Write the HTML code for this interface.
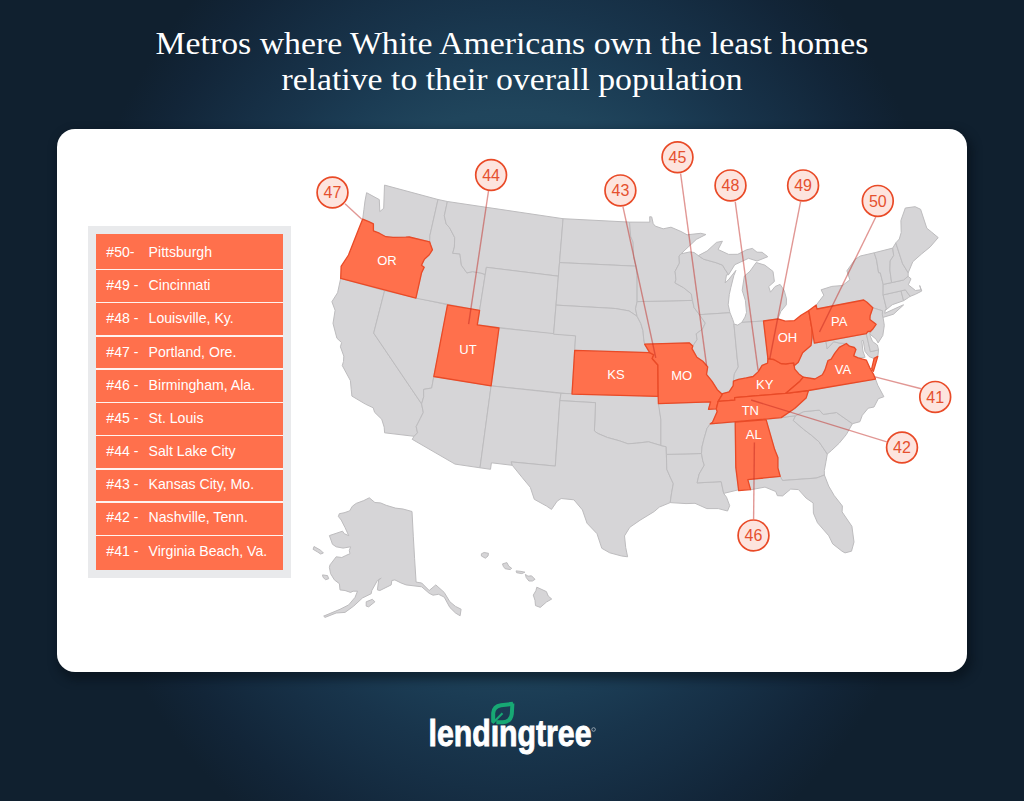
<!DOCTYPE html>
<html><head><meta charset="utf-8">
<style>
html,body{margin:0;padding:0;width:1024px;height:801px;overflow:hidden;background:#10202f}
#bg{position:absolute;left:0;top:0;width:1024px;height:801px;
background:radial-gradient(ellipse 450px 540px at 512px 380px, #24516a 0%, #20455c 50%, #1b3c54 60%, #18344b 69%, #162f45 76%, #122538 90%, #10202f 100%), #10202f;}
.title{position:absolute;left:0;width:1024px;text-align:center;color:#fff;font-family:"Liberation Serif",serif;font-size:32px;white-space:nowrap;line-height:36px;transform:scaleX(1.055);transform-origin:512px 0}
#card{position:absolute;left:57.1px;top:129.4px;width:910.1px;height:542.8px;background:#fff;border-radius:18px;box-shadow:3px 5px 8px 3px rgba(6,13,22,0.5)}
#legend{position:absolute;left:88.3px;top:226.3px;width:203px;height:352px;background:#e9eaec}
.row{position:absolute;left:8.1px;width:186.5px;background:#ff704c;color:#fff;font-family:"Liberation Sans",sans-serif;font-size:14.3px}
.row span{position:absolute;top:50%;transform:translateY(-43%);line-height:16px;white-space:nowrap}
.row .n{left:10px}
.row .c{left:52px}
#map{position:absolute;left:0;top:0}
#logo{position:absolute;left:0;top:0}
</style></head><body>
<div id="bg"></div>
<div class="title" style="top:25px">Metros where White Americans own the least homes</div>
<div class="title" style="top:61px">relative to their overall population</div>
<div id="card"></div>
<div id="legend"><div style="position:absolute;left:8.1px;top:7.9px;width:186.5px;height:335.7px;background:#fff3ef"></div><div class="row" style="top:7.9px;height:34.4px"></div><div class="row" style="top:43.8px;height:31.8px"></div><div class="row" style="top:77.0px;height:31.8px"></div><div class="row" style="top:110.3px;height:31.8px"></div><div class="row" style="top:143.5px;height:31.8px"></div><div class="row" style="top:176.8px;height:31.8px"></div><div class="row" style="top:210.1px;height:31.8px"></div><div class="row" style="top:243.3px;height:31.8px"></div><div class="row" style="top:276.6px;height:31.8px"></div><div class="row" style="top:309.9px;height:33.7px"></div></div>
<svg width="1024" height="801" style="position:absolute;left:0;top:0"><g font-family="Liberation Sans, sans-serif" font-size="14.1" fill="#fff"><text x="106.3" y="257.10">#50-</text><text x="148.6" y="257.10">Pittsburgh</text><text x="106.3" y="290.27">#49 -</text><text x="148.6" y="290.27">Cincinnati</text><text x="106.3" y="323.44">#48 -</text><text x="148.6" y="323.44">Louisville, Ky.</text><text x="106.3" y="356.61">#47 -</text><text x="148.6" y="356.61">Portland, Ore.</text><text x="106.3" y="389.78">#46 -</text><text x="148.6" y="389.78">Birmingham, Ala.</text><text x="106.3" y="422.95">#45 -</text><text x="148.6" y="422.95">St. Louis</text><text x="106.3" y="456.12">#44 -</text><text x="148.6" y="456.12">Salt Lake City</text><text x="106.3" y="489.29">#43 -</text><text x="148.6" y="489.29">Kansas City, Mo.</text><text x="106.3" y="522.46">#42 -</text><text x="148.6" y="522.46">Nashville, Tenn.</text><text x="106.3" y="555.63">#41 -</text><text x="148.6" y="555.63">Virginia Beach, Va.</text></g></svg>
<svg id="map" width="1024" height="801" viewBox="0 0 1024 801">
<g fill="#d6d5d7" stroke="#bdbcbe" stroke-width="1" stroke-linejoin="round">
<path d="M366.6,192.7 379.3,199.6 379.8,211.6 383.7,208.3 384.5,185.1 438.0,199.5 429.9,235.5 429.7,241.9 409.2,237.0 405.8,237.2 393.0,237.4 385.8,236.7 379.3,233.2 373.4,230.8 373.4,223.9 368.8,221.7 362.7,219.1 363.9,209.7 365.0,201.0Z"/>
<path d="M340.7,278.4 384.6,290.7 373.7,333.1 421.6,403.9 423.3,412.4 420.3,418.5 416.2,426.6 417.5,432.8 414.1,436.3 384.6,432.8 384.2,427.2 381.7,419.2 374.6,412.3 373.2,407.8 365.4,404.1 351.9,396.1 351.2,389.2 350.4,380.6 342.3,365.6 343.5,361.4 343.8,356.1 340.4,346.8 341.6,342.6 336.9,338.2 333.0,323.4 335.1,310.3 331.9,301.7 337.6,292.7Z"/>
<path d="M384.6,290.7 447.6,304.8 433.8,376.5 431.7,388.0 423.6,389.4 423.7,396.8 421.6,403.9 373.7,333.1Z"/>
<path d="M433.8,376.5 491.1,385.9 480.0,467.8 455.0,464.1 412.2,439.3 414.1,436.3 417.5,432.8 416.2,426.6 420.3,418.5 423.3,412.4 421.6,403.9 423.7,396.8 423.6,389.4 431.7,388.0 433.8,376.5Z"/>
<path d="M438.0,199.5 447.4,201.5 444.3,215.8 446.2,224.0 449.5,227.6 454.7,237.5 454.4,247.0 452.7,253.3 459.9,253.9 461.4,265.2 466.9,272.9 472.5,271.6 480.7,273.0 485.2,274.5 479.6,310.4 415.9,298.2 421.6,272.7 424.2,267.3 421.5,265.2 424.4,259.2 429.1,255.0 432.4,249.8 430.4,244.2 429.7,241.9 429.9,235.5Z"/>
<path d="M447.4,201.5 563.1,218.7 558.4,276.2 486.4,267.3 485.2,274.5 480.7,273.0 472.5,271.6 466.9,272.9 461.4,265.2 459.9,253.9 452.7,253.3 454.4,247.0 454.7,237.5 449.5,227.6 446.2,224.0 444.3,215.8Z"/>
<path d="M486.4,267.3 558.4,276.2 553.6,334.2 477.3,324.8Z"/>
<path d="M499.0,328.0 575.6,335.8 572.0,394.1 491.1,385.9Z"/>
<path d="M491.1,385.9 561.0,393.4 559.9,400.6 555.3,466.1 511.2,461.9 512.3,465.3 491.4,462.8 490.5,469.3 480.0,467.8Z"/>
<path d="M563.1,218.7 629.5,222.1 630.7,236.4 633.1,242.2 633.6,256.6 636.0,266.2 559.5,262.6Z"/>
<path d="M559.5,262.6 636.0,266.2 637.1,275.4 637.1,301.6 635.5,308.8 637.1,316.3 629.0,310.9 615.2,308.5 556.0,305.1Z"/>
<path d="M556.0,305.1 615.2,308.5 629.0,310.9 637.1,316.3 640.8,323.4 643.0,330.7 643.6,338.0 644.6,344.2 649.7,352.6 574.7,350.4 575.6,335.8 553.6,334.2Z"/>
<path d="M561.0,393.4 658.2,396.4 660.9,419.8 660.9,445.5 648.5,441.8 636.4,443.2 627.9,443.8 619.4,440.8 607.4,437.5 597.9,433.5 594.4,431.0 595.5,402.7 559.9,400.6Z"/>
<path d="M559.9,400.6 595.5,402.7 594.4,431.0 597.9,433.5 607.4,437.5 619.4,440.8 627.9,443.8 636.4,443.2 648.5,441.8 660.9,445.5 666.2,446.7 666.4,454.4 666.8,469.3 670.6,477.9 673.3,483.7 671.7,492.4 670.2,502.6 659.3,507.1 654.3,511.5 640.1,520.2 629.8,527.3 624.5,535.9 625.7,547.4 627.6,556.8 621.6,556.0 609.7,552.8 601.8,548.3 597.0,533.7 587.0,523.2 582.4,509.9 573.9,499.8 561.2,498.5 557.2,501.1 551.5,509.4 546.6,506.1 534.3,499.3 530.3,487.3 522.4,477.8 512.3,465.3 511.2,461.9 555.3,466.1Z"/>
<path d="M666.4,454.4 701.5,453.5 702.8,460.8 704.3,465.1 699.2,474.0 697.1,482.9 721.2,481.6 723.7,493.4 726.5,497.2 729.7,505.7 727.5,511.0 718.3,508.6 706.8,508.6 695.0,503.3 686.0,503.6 670.2,502.6 671.7,492.4 673.3,483.7 670.6,477.9 666.8,469.3Z"/>
<path d="M658.4,403.7 710.6,401.9 708.5,409.3 716.3,408.8 717.1,411.7 712.5,422.2 710.3,423.8 707.0,428.4 704.0,438.8 702.0,446.9 701.5,453.5 666.4,454.4 666.2,446.7 660.9,445.5 660.9,419.8Z"/>
<path d="M637.1,301.6 692.5,300.4 694.1,307.6 699.4,314.7 705.3,323.1 702.5,329.1 696.2,333.8 697.1,339.6 692.8,346.0 689.2,342.8 644.6,344.2 643.6,338.0 643.0,330.7 640.8,323.4 637.1,316.3 635.5,308.8Z"/>
<path d="M629.5,222.1 649.8,222.2 649.7,216.7 651.7,216.9 653.2,223.6 655.2,226.1 663.2,228.8 671.0,227.2 681.0,231.5 687.1,234.8 700.8,233.3 705.9,234.5 696.3,239.4 681.0,253.8 679.1,256.0 679.4,263.2 675.1,271.3 675.9,279.3 675.0,282.9 683.6,287.7 691.3,293.9 692.5,300.4 637.1,301.6 637.1,275.4 636.0,266.2 633.6,256.6 633.1,242.2 630.7,236.4Z"/>
<path d="M681.0,253.8 679.1,256.0 679.4,263.2 675.1,271.3 675.9,279.3 675.0,282.9 683.6,287.7 691.3,293.9 692.5,300.4 694.1,307.6 699.4,314.7 730.0,312.7 728.2,304.8 729.3,294.4 730.8,287.7 733.8,275.7 735.9,270.4 729.0,279.1 725.1,283.0 726.5,274.9 728.6,274.7 724.9,269.2 722.5,265.1 716.1,262.7 703.6,259.2 698.3,255.6 694.1,252.5 690.0,251.9Z"/>
<path d="M698.3,255.6 707.1,251.0 716.5,242.4 722.4,241.2 718.1,249.5 728.7,254.4 737.8,254.3 746.5,249.8 752.4,248.4 757.0,252.2 762.1,252.3 767.8,256.7 757.0,261.0 748.5,258.3 740.7,262.0 734.8,264.7 728.6,274.7 724.9,269.2 722.5,265.1 716.1,262.7 703.6,259.2Z"/>
<path d="M756.2,262.5 750.0,271.2 744.3,276.2 742.2,290.3 745.4,300.5 746.5,312.5 745.0,317.1 741.8,322.4 763.5,321.0 778.0,318.8 780.8,311.5 786.3,304.8 786.5,298.9 784.2,290.4 780.1,284.4 775.1,286.5 770.5,292.2 768.7,286.6 774.4,281.5 773.0,271.4 764.8,265.1Z"/>
<path d="M699.4,314.7 730.0,312.7 732.8,319.7 733.9,323.1 737.2,358.1 738.3,366.9 734.4,373.8 733.4,381.2 733.2,385.6 729.1,391.8 721.7,393.8 717.3,389.7 712.1,381.3 706.5,374.3 707.7,366.9 702.8,361.3 696.9,357.2 692.0,348.6 692.8,346.0 697.1,339.6 696.2,333.8 702.5,329.1 705.3,323.1Z"/>
<path d="M733.9,324.0 737.7,325.1 741.8,322.4 763.5,321.0 767.9,358.7 767.6,363.2 762.1,365.3 758.3,371.6 753.1,376.5 746.3,377.9 738.4,379.3 733.4,381.2 734.4,373.8 738.3,366.9 737.2,358.1Z"/>
<path d="M710.3,423.8 707.0,428.4 704.0,438.8 702.0,446.9 701.5,453.5 702.8,460.8 704.3,465.1 699.2,474.0 697.1,482.9 721.2,481.6 723.7,493.4 738.6,489.8 735.8,467.4 735.2,422.1Z"/>
<path d="M766.1,419.6 795.6,415.7 793.3,420.5 803.7,429.4 811.9,435.6 819.1,441.9 827.3,454.0 826.0,461.5 824.3,470.6 824.4,475.0 818.4,477.4 816.0,478.1 782.5,480.5 780.2,476.4 777.9,467.9 777.9,457.6 774.7,449.6Z"/>
<path d="M747.8,479.6 780.2,476.4 782.5,480.5 816.0,478.1 818.4,477.4 824.4,475.0 828.7,486.1 834.2,495.5 842.4,506.0 842.1,511.9 851.9,526.3 854.0,542.0 851.5,551.2 845.0,552.9 842.0,551.2 832.7,543.9 828.8,535.8 817.5,522.8 813.4,513.2 813.2,503.0 806.1,498.1 798.5,489.6 790.7,489.1 782.6,495.9 777.4,495.7 775.7,491.5 765.0,487.1 750.0,489.9Z"/>
<path d="M795.6,415.7 803.4,411.7 819.4,410.1 823.2,414.4 836.5,412.5 852.4,423.7 846.3,434.6 839.2,443.2 831.7,450.3 827.3,454.0 819.1,441.9 811.9,435.6 803.7,429.4 793.3,420.5Z"/>
<path d="M781.2,417.6 795.6,415.7 803.4,411.7 819.4,410.1 823.2,414.4 836.5,412.5 852.4,423.7 859.9,421.7 862.3,415.3 868.2,408.2 874.0,407.0 878.3,398.7 883.9,396.7 877.8,385.3 875.5,379.1 808.5,390.5 806.1,398.1 794.6,408.5Z"/>
<path d="M812.1,329.9 814.4,343.2 825.9,341.3 827.2,348.8 833.7,341.7 839.0,343.0 846.4,343.5 845.5,344.0 839.3,347.4 834.7,353.4 831.2,359.2 828.0,360.5 825.0,369.9 822.4,374.8 814.9,379.0 803.3,377.2 798.9,373.9 794.7,369.1 794.2,365.7 798.3,362.2 802.6,352.7 811.0,345.5 812.0,337.9Z"/>
<path d="M825.9,341.3 866.3,333.6 870.4,351.7 878.6,349.9 877.8,356.4 873.9,358.5 869.0,356.5 865.0,351.4 863.2,340.5 861.8,340.8 862.9,351.0 865.1,357.3 858.2,357.9 853.7,355.8 855.9,349.5 854.3,347.5 849.4,346.2 846.4,343.5 839.0,343.0 833.7,341.7 827.2,348.8Z"/>
<path d="M866.3,333.6 868.0,331.4 870.3,331.5 870.2,336.0 872.6,341.5 877.4,345.0 878.6,349.9 870.4,351.7Z"/>
<path d="M816.9,309.0 816.2,305.1 823.8,295.2 821.1,289.8 831.8,286.4 842.5,285.5 849.9,279.8 846.9,270.8 855.0,259.4 860.3,256.0 874.2,252.8 876.5,259.7 878.6,272.7 880.3,272.8 883.2,284.4 883.1,294.9 886.4,308.4 885.2,310.5 884.8,313.3 902.5,305.2 903.6,304.9 893.5,314.2 883.0,317.4 880.5,318.8 882.3,314.6 882.5,310.8 872.8,307.8 867.0,302.3 863.7,300.0Z"/>
<path d="M872.8,307.8 882.5,310.8 882.3,314.6 883.3,318.9 884.3,325.4 882.8,335.5 878.1,342.9 876.1,339.2 869.7,333.9 873.1,328.7 876.1,324.3 869.9,319.6 870.1,315.8 872.8,307.8 867.0,302.3Z"/>
<path d="M883.1,294.9 901.0,290.9 903.6,300.7 892.3,304.7 885.2,310.5 886.4,308.4Z"/>
<path d="M901.0,290.9 905.4,289.8 910.1,296.4 908.4,297.6 903.6,300.7Z"/>
<path d="M883.2,284.4 891.6,282.6 903.6,280.0 906.6,277.0 908.1,276.3 911.0,278.8 908.3,284.8 915.5,290.5 920.9,289.8 919.7,285.5 921.8,291.0 915.4,294.3 910.1,296.4 905.4,289.8 901.0,290.9 883.1,294.9Z"/>
<path d="M874.2,252.8 892.7,248.1 893.7,255.5 890.2,260.9 889.9,270.0 891.6,282.6 883.2,284.4 880.3,272.8 878.6,272.7 876.5,259.7Z"/>
<path d="M892.7,248.1 895.8,242.9 902.6,263.7 908.2,272.8 908.1,276.3 903.6,280.0 891.6,282.6 889.9,270.0 890.2,260.9 893.7,255.5Z"/>
<path d="M895.8,242.9 899.3,239.0 901.2,232.5 900.9,220.5 905.3,208.0 915.1,206.7 920.6,209.3 926.8,228.2 931.5,232.0 938.2,237.6 930.2,246.9 921.5,254.0 912.8,261.7 908.2,272.8 902.6,263.7Z"/>
<polygon points="369.3,497.8 374.9,502.5 380.5,502.9 386.2,505.3 395.5,508.1 403.0,509.0 412.0,511.5 413.3,536.2 414.6,558.7 416.1,582.1 421.7,583.0 429.2,590.5 435.8,584.9 444.2,592.4 449.8,601.7 455.5,606.4 461.1,609.2 460.1,615.8 455.5,613.0 449.8,607.4 444.2,597.1 438.6,594.3 433.0,595.2 429.2,593.3 421.7,586.8 406.1,584.9 401.1,583.0 394.9,579.9 391.8,580.5 391.2,584.9 379.9,590.5 377.4,589.9 378.7,579.9 381.2,578.1 377.4,580.5 371.8,590.5 371.2,593.7 362.4,598.0 353.7,606.1 345.0,612.4 336.2,613.0 325.0,617.4 323.7,616.1 340.0,609.3 348.7,604.9 355.0,597.4 357.5,591.2 353.1,591.2 350.6,592.4 345.0,590.5 340.0,589.9 339.4,583.7 334.4,579.9 330.6,573.7 329.4,567.4 330.0,564.9 336.2,556.8 341.8,557.5 345.6,555.6 350.0,553.7 349.3,550.6 350.6,546.8 343.1,548.1 336.2,546.8 332.5,544.3 329.4,535.6 342.5,531.2 344.3,533.7 348.7,535.6 345.0,527.5 341.2,520.0 338.4,516.5 339.3,513.7 344.0,512.8 349.6,510.9 352.4,506.2 356.2,503.4 363.7,500.6"/>
<polygon points="314.0,546.5 320.6,550.2 323.4,553.0 320.6,554.0 317.8,552.1 313.1,549.3"/>
<polygon points="322.5,574.9 327.5,575.6 328.7,578.7 325.6,579.7 323.1,577.4"/>
<polygon points="366.2,601.8 372.4,599.3 374.9,601.8 368.7,606.8 366.2,606.1"/>
<polygon points="481.4,553.8 484.1,552.5 488.5,553.3 488.0,556.0 485.4,558.2 481.4,556.0"/>
<polygon points="502.5,563.9 506.9,562.6 508.7,566.1 511.7,568.3 510.4,569.6 505.1,568.7 503.4,566.5"/>
<polygon points="516.1,570.9 521.0,571.4 524.9,572.2 521.8,573.6 516.6,572.7"/>
<polygon points="525.4,574.4 528.0,576.2 531.5,575.8 535.0,579.3 532.4,581.0 528.9,581.0 526.2,577.5"/>
<polygon points="536.8,587.2 546.4,591.6 548.2,596.0 551.7,599.0 546.4,602.1 540.3,607.4 535.5,605.6 535.0,600.4 533.3,595.1 535.9,590.7"/>
</g><g fill="#ff704c" stroke="#e94a27" stroke-width="1.3" stroke-linejoin="round">
<path d="M362.7,219.1 358.1,230.6 353.3,242.8 348.5,255.0 341.1,266.4 340.7,278.4 415.9,298.2 421.6,272.7 424.2,267.3 421.5,265.2 424.4,259.2 429.1,255.0 432.4,249.8 430.4,244.2 429.7,241.9 409.2,237.0 405.8,237.2 393.0,237.4 385.8,236.7 379.3,233.2 373.4,230.8 373.4,223.9 368.8,221.7Z"/>
<path d="M447.5,304.8 479.6,310.4 477.3,324.8 499.0,328.0 491.1,385.9 433.8,376.5Z"/>
<path d="M574.7,350.4 649.7,352.6 653.8,354.8 652.2,358.5 657.9,365.0 658.2,396.4 572.0,394.1Z"/>
<path d="M644.6,344.2 689.2,342.8 692.8,346.0 692.0,348.6 696.9,357.2 702.8,361.3 707.7,366.9 706.5,374.3 712.1,381.3 717.3,389.7 721.7,393.8 722.3,394.5 718.2,401.4 716.3,408.8 708.5,409.3 710.6,401.9 658.4,403.7 658.2,396.4 657.9,365.0 652.2,358.5 653.8,354.8 649.7,352.6Z"/>
<path d="M718.2,401.4 734.8,400.2 734.6,397.6 785.6,393.4 793.8,386.5 800.0,381.2 803.3,377.2 798.9,373.9 794.7,369.1 794.2,365.7 793.8,362.8 785.9,363.9 781.3,363.7 773.9,359.5 767.9,358.7 767.6,363.2 762.1,365.3 758.3,371.6 753.1,376.5 746.3,377.9 738.4,379.3 733.4,381.2 733.2,385.6 729.1,391.8 721.7,393.8 722.3,394.5Z"/>
<path d="M710.3,423.8 781.2,417.6 794.6,408.5 806.1,398.1 808.5,390.5 785.6,393.4 734.6,397.6 734.8,400.2 718.2,401.4 716.3,408.8 717.1,411.7 712.5,422.2 710.3,423.8Z"/>
<path d="M735.2,422.1 766.1,419.6 774.7,449.6 777.9,457.6 777.9,467.9 780.2,476.4 747.8,479.6 750.6,489.6 738.7,490.6 735.8,467.4Z"/>
<path d="M763.5,321.0 778.0,318.8 785.4,321.2 794.2,320.7 801.0,315.2 808.8,310.6 812.1,329.9 812.0,337.9 811.0,345.5 802.6,352.7 798.3,362.2 794.2,365.7 793.8,362.8 785.9,363.9 781.3,363.7 773.9,359.5 767.9,358.7Z"/>
<path d="M808.8,310.6 816.2,305.1 816.9,309.0 863.7,300.0 867.0,302.3 872.8,307.8 870.1,315.8 869.9,319.6 876.1,324.3 873.1,328.7 870.3,331.5 868.0,331.4 866.3,333.6 814.4,343.2Z"/>
<path d="M875.5,379.1 808.5,390.5 785.6,393.4 793.8,386.5 800.0,381.2 803.3,377.2 814.9,379.0 822.4,374.8 825.0,369.9 828.0,360.5 831.2,359.2 834.7,353.4 839.3,347.4 845.5,344.0 846.4,343.5 849.4,346.2 854.3,347.5 855.9,349.5 853.7,355.8 858.2,357.9 866.3,360.1 869.7,367.6 873.5,374.3Z"/>
<path d="M874.1,358.4 877.8,356.4 873.4,371.3 871.7,368.7Z"/>
</g>
<g font-family="Liberation Sans, sans-serif" font-size="13" fill="#fff" text-anchor="middle">
<text x="387" y="265.2">OR</text>
<text x="468" y="354.2">UT</text>
<text x="616" y="378.8">KS</text>
<text x="681.7" y="379.6">MO</text>
<text x="764.7" y="388.8">KY</text>
<text x="750.3" y="415.4">TN</text>
<text x="753.7" y="439.4">AL</text>
<text x="839.3" y="325.6">PA</text>
<text x="787.5" y="342.4">OH</text>
<text x="842.9" y="373.9">VA</text>
</g>
<g stroke="rgba(192,38,32,0.48)" stroke-width="1.4" fill="none">
<line x1="361.8" y1="219.3" x2="345.0" y2="203.7"/>
<line x1="468.6" y1="324.1" x2="488.5" y2="191.0"/>
<line x1="655.8" y1="357.8" x2="623.0" y2="206.8"/>
<line x1="706.6" y1="365.6" x2="680.6" y2="173.6"/>
<line x1="758.1" y1="370.3" x2="735.2" y2="201.6"/>
<line x1="769.8" y1="358.6" x2="800.6" y2="201.6"/>
<line x1="819.5" y1="332.0" x2="875.8" y2="217.0"/>
<line x1="875.0" y1="376.9" x2="921.2" y2="388.7"/>
<line x1="751.1" y1="400.0" x2="886.8" y2="441.8"/>
<line x1="754.4" y1="442.5" x2="753.6" y2="519.0"/>
</g>
<g>
<circle cx="332.5" cy="192.5" r="15.4" fill="#fde4de" stroke="#e94a27" stroke-width="1.7"/>
<text x="332.5" y="198.2" font-family="Liberation Sans, sans-serif" font-size="16" fill="#e5502e" text-anchor="middle">47</text>
<circle cx="491.1" cy="175.0" r="15.4" fill="#fde4de" stroke="#e94a27" stroke-width="1.7"/>
<text x="491.1" y="180.7" font-family="Liberation Sans, sans-serif" font-size="16" fill="#e5502e" text-anchor="middle">44</text>
<circle cx="620.4" cy="190.4" r="15.4" fill="#fde4de" stroke="#e94a27" stroke-width="1.7"/>
<text x="620.4" y="196.1" font-family="Liberation Sans, sans-serif" font-size="16" fill="#e5502e" text-anchor="middle">43</text>
<circle cx="677.5" cy="157.3" r="15.4" fill="#fde4de" stroke="#e94a27" stroke-width="1.7"/>
<text x="677.5" y="163.0" font-family="Liberation Sans, sans-serif" font-size="16" fill="#e5502e" text-anchor="middle">45</text>
<circle cx="730.5" cy="185.4" r="15.4" fill="#fde4de" stroke="#e94a27" stroke-width="1.7"/>
<text x="730.5" y="191.1" font-family="Liberation Sans, sans-serif" font-size="16" fill="#e5502e" text-anchor="middle">48</text>
<circle cx="803.1" cy="185.4" r="15.4" fill="#fde4de" stroke="#e94a27" stroke-width="1.7"/>
<text x="803.1" y="191.1" font-family="Liberation Sans, sans-serif" font-size="16" fill="#e5502e" text-anchor="middle">49</text>
<circle cx="877.8" cy="200.9" r="15.4" fill="#fde4de" stroke="#e94a27" stroke-width="1.7"/>
<text x="877.8" y="206.6" font-family="Liberation Sans, sans-serif" font-size="16" fill="#e5502e" text-anchor="middle">50</text>
<circle cx="935.2" cy="396.9" r="15.4" fill="#fde4de" stroke="#e94a27" stroke-width="1.7"/>
<text x="935.2" y="402.6" font-family="Liberation Sans, sans-serif" font-size="16" fill="#e5502e" text-anchor="middle">41</text>
<circle cx="902.0" cy="447.5" r="15.4" fill="#fde4de" stroke="#e94a27" stroke-width="1.7"/>
<text x="902.0" y="453.2" font-family="Liberation Sans, sans-serif" font-size="16" fill="#e5502e" text-anchor="middle">42</text>
<circle cx="753.5" cy="535.4" r="15.4" fill="#fde4de" stroke="#e94a27" stroke-width="1.7"/>
<text x="753.5" y="541.1" font-family="Liberation Sans, sans-serif" font-size="16" fill="#e5502e" text-anchor="middle">46</text>
</g></svg>
<svg id="logo" width="1024" height="801" viewBox="0 0 1024 801">
<text x="428.5" y="746" font-family="Liberation Sans, sans-serif" font-weight="bold" font-size="37" fill="#fff" stroke="#fff" stroke-width="0.9" textLength="163" lengthAdjust="spacingAndGlyphs">lendıngtree</text>
<g fill="none" stroke="#17a874" stroke-width="4" stroke-linecap="butt">
<path d="M493.2,722.5 L493.2,713 Q493.8,706.2 501,705.2 L513,703.8"/>
<path d="M512.4,703.5 L511.8,714 Q510.8,721.6 503,722.3 L496.3,722.3"/>
<path d="M492.5,723.2 L502.5,713.2" stroke-width="2.2"/>
</g>
<circle cx="593.6" cy="729.5" r="1.8" fill="none" stroke="#fff" stroke-width="0.6" opacity="0.8"/>
</svg>
</body></html>
